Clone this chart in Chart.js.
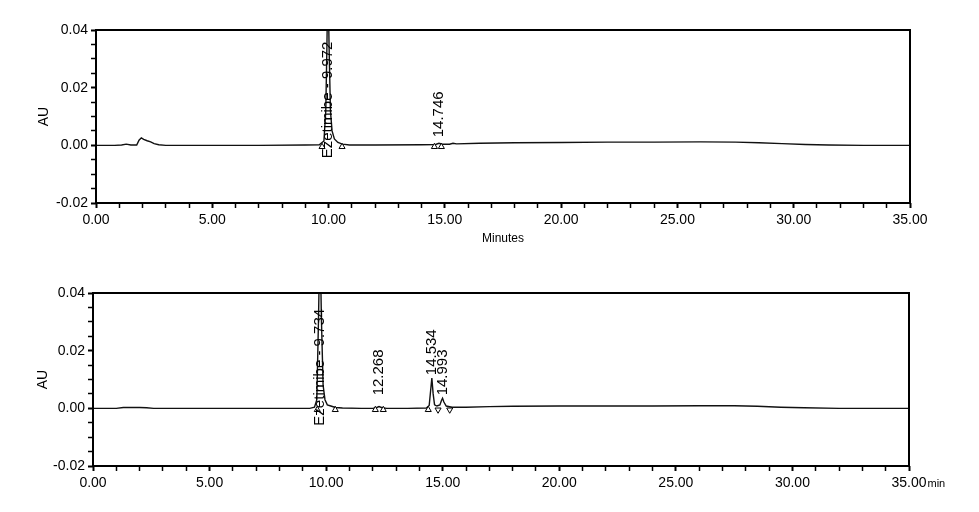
<!DOCTYPE html>
<html>
<head>
<meta charset="utf-8">
<script src="https://cdn.jsdelivr.net/npm/chart.js@4.4.1/dist/chart.umd.min.js"></script>
<style>
  body { margin: 0; background: #fff; }
  #wrap { position: relative; width: 979px; height: 512px; }
  canvas { position: absolute; left: 0; }
</style>
</head>
<body>
<div id="wrap">
  <canvas id="chart-top" width="979" height="256" style="top:0"></canvas>
  <canvas id="chart-bottom" width="979" height="250" style="top:262px"></canvas>
</div>
<script>
const topTimes = [0, 0.8, 1.1, 1.3, 1.5, 1.75, 1.85, 1.95, 2.05, 2.2, 2.35, 2.5, 2.7, 3.0, 5, 7, 9, 9.6, 9.8, 9.88, 9.93, 9.972, 10.02, 10.08, 10.15, 10.25, 10.4, 10.6, 10.9, 12, 14, 14.6, 14.746, 14.9, 15.2, 15.35, 15.5, 16.5, 18, 20, 22, 24, 26, 27.5, 28.5, 29.5, 30.5, 31.5, 33, 35];
const topAU = [0, 0, 0.0001, 0.0004, 0.0001, 0.0001, 0.0018, 0.0026, 0.0021, 0.0016, 0.0012, 0.0006, 0.0002, 0, 0, 0, 0.0001, 0.0002, 0.0015, 0.012, 0.035, 0.06, 0.035, 0.012, 0.005, 0.0022, 0.001, 0.0004, 0.0001, 0.0001, 0.0002, 0.0003, 0.0007, 0.0004, 0.0004, 0.0007, 0.0005, 0.0007, 0.0009, 0.001, 0.0011, 0.0011, 0.0012, 0.0011, 0.0009, 0.0006, 0.0003, 0.0001, 0, 0];

const bottomTimes = [0, 1.0, 1.3, 1.6, 2.0, 2.3, 2.6, 5, 8, 9.3, 9.5, 9.6, 9.67, 9.734, 9.8, 9.87, 9.95, 10.05, 10.2, 10.4, 10.7, 11.5, 12.0, 12.15, 12.268, 12.4, 12.6, 13.5, 14.3, 14.42, 14.48, 14.534, 14.59, 14.65, 14.75, 14.88, 14.95, 14.993, 15.05, 15.15, 15.4, 16, 17, 18, 20, 22, 24, 26, 27.5, 28.5, 29.5, 30.5, 32, 35];
const bottomAU = [0, 0, 0.0003, 0.0003, 0.0003, 0.0002, 0, 0, 0, 0, 0.0004, 0.003, 0.03, 0.06, 0.03, 0.008, 0.003, 0.0012, 0.0008, 0.0003, 0.0001, 0, 0, 0.0002, 0.0006, 0.0002, 0, 0, 0.0001, 0.001, 0.006, 0.0105, 0.005, 0.0012, 0.0008, 0.0012, 0.0028, 0.0035, 0.0022, 0.0008, 0.0004, 0.0004, 0.0006, 0.0007, 0.0008, 0.0008, 0.0008, 0.0009, 0.0009, 0.0007, 0.0004, 0.0002, 0, 0];

// Marcas de inicio / fin de integracion
const topMarkTimes = [9.72, 10.58, 14.55, 14.85];
const topMarkRot = [0, 0, 0, 0];
const bottomMarkTimes = [9.62, 10.39, 12.11, 12.45, 14.38, 14.8, 15.3];
const bottomMarkRot = [0, 0, 0, 0, 0, 180, 180];
const markLevel = -0.0005;

// Etiquetas de picos (texto, tiempo de retencion, AU donde empieza el texto)
const topPeakNames = ['Ezetimibe - 9.972', '14.746'];
const topPeakTimes = [9.972, 14.746];
const topPeakBase = [-0.0045, 0.0028];
const bottomPeakNames = ['Ezetimibe - 9.734', '12.268', '14.534', '14.993'];
const bottomPeakTimes = [9.734, 12.268, 14.534, 14.993];
const bottomPeakBase = [-0.006, 0.0045, 0.0115, 0.0045];

// Ejes
const xMin = 0, xMax = 35, xMinorStep = 1, xMajorStep = 5;
const yMin = -0.02, yMax = 0.04, yMinorStep = 0.005, yMajorStep = 0.02;
const yTitle = 'AU';
const xTitleTop = 'Minutes';
const xUnitBottom = 'min';

const FONT = '"Liberation Sans", Arial, sans-serif';

function isMajor(v, step) {
    return Math.abs(Math.round(v / step) * step - v) < 1e-9;
}

// --- 2. Plugin: marco, etiquetas de picos y unidad ---
const peakLabelPlugin = {
    id: 'peakLabels',
    afterDatasetsDraw(chart, args, opts) {
        const { ctx, chartArea, scales: { x, y } } = chart;
        ctx.save();
        ctx.strokeStyle = '#000';
        ctx.lineWidth = 2;
        ctx.strokeRect(chartArea.left, chartArea.top, chartArea.width, chartArea.height);

        ctx.font = '15px ' + FONT;
        ctx.fillStyle = '#000';
        ctx.textAlign = 'left';
        ctx.textBaseline = 'middle';
        opts.names.forEach((name, i) => {
            ctx.save();
            ctx.translate(x.getPixelForValue(opts.times[i]), y.getPixelForValue(opts.bases[i]));
            ctx.rotate(-Math.PI / 2);
            ctx.fillText(name, 0, 0);
            ctx.restore();
        });

        if (opts.unit) {
            ctx.font = '14px ' + FONT;
            const w = ctx.measureText(xMax.toFixed(2)).width;
            ctx.font = '11px ' + FONT;
            ctx.textBaseline = 'alphabetic';
            ctx.fillText(opts.unit, x.getPixelForValue(xMax) + w / 2 + 1, x.top + 5 + 4 + 12);
        }
        ctx.restore();
    }
};

// --- 3. Construccion de cada grafico ---
function makeChart(id, times, au, markTimes, markRot, names, peakTimes, bases, lay) {
    const ctx = document.getElementById(id).getContext('2d');
    return new Chart(ctx, {
        type: 'line',
        data: {
            datasets: [
                {
                    data: markTimes.map(t => ({ x: t, y: markLevel })),
                    showLine: false,
                    pointStyle: 'triangle',
                    pointRadius: 3.5,
                    pointRotation: markRot,
                    pointBorderColor: '#000',
                    pointBackgroundColor: '#fff',
                    pointBorderWidth: 1,
                    order: 0
                },
                {
                    data: times.map((t, i) => ({ x: t, y: au[i] })),
                    borderColor: '#111',
                    borderWidth: 1.4,
                    pointRadius: 0,
                    tension: 0,
                    order: 1
                }
            ]
        },
        options: {
            responsive: false,
            animation: false,
            layout: { padding: { left: lay.left, right: lay.right, top: lay.top, bottom: lay.bottom } },
            plugins: {
                legend: { display: false },
                tooltip: { enabled: false },
                peakLabels: { names: names, times: peakTimes, bases: bases, unit: lay.unit }
            },
            scales: {
                x: {
                    type: 'linear',
                    min: xMin,
                    max: xMax,
                    afterFit: s => { s.height = lay.xHeight; },
                    border: { display: false },
                    grid: {
                        drawOnChartArea: false,
                        tickLength: 5,
                        tickColor: '#000',
                        tickWidth: c => isMajor(c.tick.value, xMajorStep) ? 2 : 1.5
                    },
                    ticks: {
                        stepSize: xMinorStep,
                        autoSkip: false,
                        maxRotation: 0,
                        padding: 4,
                        color: '#000',
                        font: { family: FONT, size: 14 },
                        callback: v => isMajor(v, xMajorStep) ? v.toFixed(2) : ''
                    },
                    title: {
                        display: !!lay.xTitle,
                        text: lay.xTitle || '',
                        color: '#000',
                        font: { family: FONT, size: 12 },
                        padding: 0
                    }
                },
                y: {
                    min: yMin,
                    max: yMax,
                    afterFit: s => { s.width = lay.yWidth; },
                    border: { display: false },
                    grid: {
                        drawOnChartArea: false,
                        tickLength: 5,
                        tickColor: '#000',
                        tickWidth: c => isMajor(c.tick.value, yMajorStep) ? 2 : 1.5
                    },
                    ticks: {
                        stepSize: yMinorStep,
                        autoSkip: false,
                        padding: 3,
                        color: '#000',
                        font: { family: FONT, size: 14 },
                        callback: v => isMajor(v, yMajorStep) ? v.toFixed(2) : ''
                    },
                    title: {
                        display: true,
                        text: yTitle,
                        color: '#000',
                        font: { family: FONT, size: 14 },
                        padding: 0
                    }
                }
            }
        },
        plugins: [peakLabelPlugin]
    });
}

window.onload = function() {
    makeChart('chart-top', topTimes, topAU, topMarkTimes, topMarkRot,
        topPeakNames, topPeakTimes, topPeakBase,
        { left: 36, right: 69, top: 30, bottom: 10, xHeight: 43, yWidth: 60, xTitle: xTitleTop });
    makeChart('chart-bottom', bottomTimes, bottomAU, bottomMarkTimes, bottomMarkRot,
        bottomPeakNames, bottomPeakTimes, bottomPeakBase,
        { left: 35, right: 70, top: 31, bottom: 10, xHeight: 36, yWidth: 58, unit: xUnitBottom });
};
</script>
</body>
</html>
